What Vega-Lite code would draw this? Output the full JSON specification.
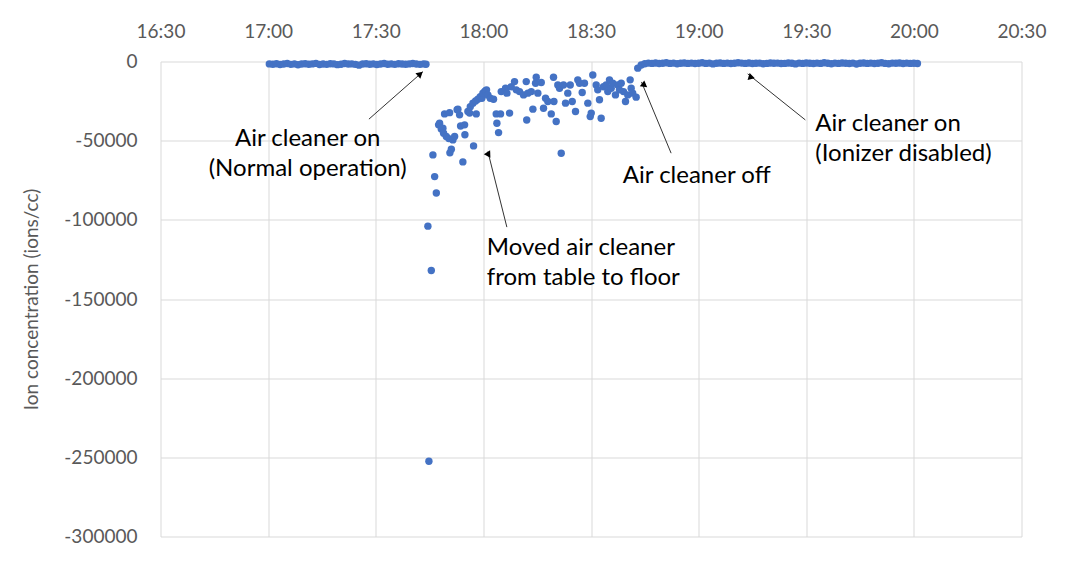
{
  "$schema": "https://vega.github.io/schema/vega-lite/v6.json",
  "width": 861,
  "height": 475,
  "autosize": {"type": "none"},
  "padding": {"left": 160.5, "top": 61.5, "right": 43, "bottom": 28},
  "background": "white",
  "config": {"view": {"stroke": null}, "font": "Lato"},
  "datasets": {
    "pts": [
      {"t":"17:00:20","v":-1500},{"t":"17:01:20","v":-1700},{"t":"17:02:20","v":-1400},{"t":"17:03:20","v":-1900},{"t":"17:04:20","v":-1600},
      {"t":"17:05:20","v":-1300},{"t":"17:06:20","v":-1800},{"t":"17:07:20","v":-1500},{"t":"17:08:20","v":-2100},{"t":"17:09:20","v":-1600},
      {"t":"17:10:20","v":-1400},{"t":"17:11:20","v":-1700},{"t":"17:12:20","v":-1500},{"t":"17:13:20","v":-1200},{"t":"17:14:20","v":-1900},
      {"t":"17:15:20","v":-1600},{"t":"17:16:20","v":-1800},{"t":"17:17:20","v":-1400},{"t":"17:18:20","v":-1500},{"t":"17:19:20","v":-2000},
      {"t":"17:20:20","v":-1700},{"t":"17:21:20","v":-1300},{"t":"17:22:20","v":-1600},{"t":"17:23:20","v":-1500},{"t":"17:24:20","v":-1800},
      {"t":"17:25:20","v":-2300},{"t":"17:26:20","v":-1600},{"t":"17:27:20","v":-1400},{"t":"17:28:20","v":-1700},{"t":"17:29:20","v":-1500},
      {"t":"17:30:20","v":-1900},{"t":"17:31:20","v":-1600},{"t":"17:32:20","v":-1300},{"t":"17:33:20","v":-1700},{"t":"17:34:20","v":-1500},
      {"t":"17:35:20","v":-1800},{"t":"17:36:20","v":-1400},{"t":"17:37:20","v":-1600},{"t":"17:38:20","v":-1700},{"t":"17:39:20","v":-1500},
      {"t":"17:40:20","v":-1300},{"t":"17:41:20","v":-1600},{"t":"17:42:20","v":-1800},{"t":"17:43:20","v":-1500},{"t":"17:44:00","v":-1700},
      {"t":"17:44:32","v":-104000},{"t":"17:44:49","v":-252500},{"t":"17:45:29","v":-132000},{"t":"17:45:56","v":-59000},{"t":"17:46:25","v":-72700},
      {"t":"17:46:53","v":-83100},{"t":"17:47:31","v":-40000},{"t":"17:47:48","v":-39000},{"t":"17:48:16","v":-42700},{"t":"17:48:43","v":-42100},
      {"t":"17:48:55","v":-45300},{"t":"17:49:11","v":-33100},{"t":"17:49:40","v":-47400},{"t":"17:50:23","v":-48700},{"t":"17:50:35","v":-32300},
      {"t":"17:50:40","v":-57700},{"t":"17:51:04","v":-55400},{"t":"17:51:30","v":-49500},{"t":"17:51:59","v":-47400},{"t":"17:52:41","v":-30500},
      {"t":"17:52:54","v":-30100},{"t":"17:53:22","v":-33700},{"t":"17:53:39","v":-40700},{"t":"17:54:17","v":-63400},{"t":"17:54:46","v":-40000},
      {"t":"17:54:51","v":-46300},{"t":"17:55:41","v":-31600},{"t":"17:56:10","v":-32600},{"t":"17:56:21","v":-28500},{"t":"17:57:05","v":-26300},
      {"t":"17:57:16","v":-53300},{"t":"17:57:50","v":-24900},{"t":"17:58:01","v":-33100},{"t":"17:58:28","v":-23800},{"t":"17:59:08","v":-22200},
      {"t":"17:59:35","v":-23200},{"t":"17:59:52","v":-20000},{"t":"18:00:20","v":-19000},{"t":"18:00:37","v":-18400},{"t":"18:00:53","v":-17900},
      {"t":"18:01:15","v":-21100},{"t":"18:01:55","v":-23200},{"t":"18:02:50","v":-23800},{"t":"18:03:35","v":-33100},{"t":"18:03:46","v":-39000},
      {"t":"18:04:14","v":-44900},{"t":"18:04:47","v":-33100},{"t":"18:04:59","v":-19000},{"t":"18:06:11","v":-16900},{"t":"18:06:33","v":-20000},
      {"t":"18:07:18","v":-32600},{"t":"18:07:46","v":-15900},{"t":"18:08:41","v":-12700},{"t":"18:09:10","v":-17900},{"t":"18:10:05","v":-19000},
      {"t":"18:11:12","v":-21100},{"t":"18:11:57","v":-12700},{"t":"18:12:05","v":-36900},{"t":"18:12:24","v":-20000},{"t":"18:13:21","v":-19000},
      {"t":"18:13:48","v":-30100},{"t":"18:14:33","v":-13700},{"t":"18:14:44","v":-9900},{"t":"18:15:11","v":-20000},{"t":"18:16:08","v":-13300},
      {"t":"18:16:46","v":-29500},{"t":"18:17:20","v":-23200},{"t":"18:17:58","v":-25300},{"t":"18:18:55","v":-33100},{"t":"18:19:33","v":-9900},
      {"t":"18:19:40","v":-25300},{"t":"18:20:18","v":-37900},{"t":"18:20:45","v":-14800},{"t":"18:21:14","v":-16900},{"t":"18:21:42","v":-57900},
      {"t":"18:22:20","v":-14800},{"t":"18:22:54","v":-26300},{"t":"18:23:32","v":-20000},{"t":"18:24:13","v":-14800},{"t":"18:24:46","v":-25300},
      {"t":"18:25:41","v":-31600},{"t":"18:26:19","v":-11600},{"t":"18:26:48","v":-13700},{"t":"18:27:33","v":-19600},{"t":"18:28:11","v":-13700},
      {"t":"18:29:07","v":-26300},{"t":"18:29:47","v":-34800},{"t":"18:30:04","v":-32600},{"t":"18:30:30","v":-8500},{"t":"18:31:27","v":-14800},
      {"t":"18:31:53","v":-17900},{"t":"18:32:22","v":-24200},{"t":"18:32:50","v":-35800},{"t":"18:33:29","v":-15900},{"t":"18:34:14","v":-14800},
      {"t":"18:34:41","v":-19000},{"t":"18:35:09","v":-11600},{"t":"18:35:38","v":-16900},{"t":"18:36:04","v":-13700},{"t":"18:36:49","v":-21100},
      {"t":"18:37:28","v":-14800},{"t":"18:37:56","v":-17900},{"t":"18:38:25","v":-13700},{"t":"18:39:03","v":-19000},{"t":"18:39:37","v":-25300},
      {"t":"18:40:15","v":-21100},{"t":"18:40:55","v":-11600},{"t":"18:41:12","v":-16900},{"t":"18:41:38","v":-20000},{"t":"18:42:35","v":-22500},
      {"t":"18:43:02","v":-4200},{"t":"18:44:00","v":-2200},
      {"t":"18:45:00","v":-1400},{"t":"18:46:00","v":-1000},{"t":"18:47:00","v":-1200},{"t":"18:48:00","v":-900},{"t":"18:49:00","v":-1300},
      {"t":"18:50:00","v":-1100},{"t":"18:51:00","v":-800},{"t":"18:52:00","v":-1200},{"t":"18:53:00","v":-1000},{"t":"18:54:00","v":-1400},
      {"t":"18:55:00","v":-1100},{"t":"18:56:00","v":-900},{"t":"18:57:00","v":-1200},{"t":"18:58:00","v":-1000},{"t":"18:59:00","v":-1300},
      {"t":"19:00:00","v":-1100},{"t":"19:01:00","v":-800},{"t":"19:02:00","v":-1200},{"t":"19:03:00","v":-1000},{"t":"19:04:00","v":-1500},
      {"t":"19:05:00","v":-1100},{"t":"19:06:00","v":-900},{"t":"19:07:00","v":-1200},{"t":"19:08:00","v":-1000},{"t":"19:09:00","v":-1300},
      {"t":"19:10:00","v":-1100},{"t":"19:11:00","v":-800},{"t":"19:12:00","v":-1000},{"t":"19:13:00","v":-1200},{"t":"19:14:00","v":-900},
      {"t":"19:15:00","v":-1300},{"t":"19:16:00","v":-1100},{"t":"19:17:00","v":-1000},{"t":"19:18:00","v":-1400},{"t":"19:19:00","v":-1200},
      {"t":"19:20:00","v":-900},{"t":"19:21:00","v":-1100},{"t":"19:22:00","v":-1000},{"t":"19:23:00","v":-1300},{"t":"19:24:00","v":-1200},
      {"t":"19:25:00","v":-900},{"t":"19:26:00","v":-1100},{"t":"19:27:00","v":-1500},{"t":"19:28:00","v":-1000},{"t":"19:29:00","v":-1200},
      {"t":"19:30:00","v":-900},{"t":"19:31:00","v":-1100},{"t":"19:32:00","v":-1300},{"t":"19:33:00","v":-1000},{"t":"19:34:00","v":-1200},
      {"t":"19:35:00","v":-800},{"t":"19:36:00","v":-1100},{"t":"19:37:00","v":-1400},{"t":"19:38:00","v":-1000},{"t":"19:39:00","v":-1200},
      {"t":"19:40:00","v":-900},{"t":"19:41:00","v":-1100},{"t":"19:42:00","v":-1300},{"t":"19:43:00","v":-1000},{"t":"19:44:00","v":-1600},
      {"t":"19:45:00","v":-1100},{"t":"19:46:00","v":-900},{"t":"19:47:00","v":-1200},{"t":"19:48:00","v":-1000},{"t":"19:49:00","v":-1300},
      {"t":"19:50:00","v":-1100},{"t":"19:51:00","v":-800},{"t":"19:52:00","v":-1200},{"t":"19:53:00","v":-1400},{"t":"19:54:00","v":-1000},
      {"t":"19:55:00","v":-1100},{"t":"19:56:00","v":-900},{"t":"19:57:00","v":-1300},{"t":"19:58:00","v":-1000},{"t":"19:59:00","v":-1200},
      {"t":"20:00:00","v":-1100},{"t":"20:01:00","v":-1300}
    ],
    "arrowLines": [
      {"id":"a","t":"17:28:06","v":-36400,"te":"17:43:09","ve":-6400},
      {"id":"b","t":"18:06:33","v":-104600,"te":"18:01:15","ve":-56900},
      {"id":"c","t":"18:52:20","v":-57900,"te":"18:44:04","ve":-12900},
      {"id":"d","t":"19:29:45","v":-36900,"te":"19:13:41","ve":-7800}
    ],
    "arrowHeads": [
      {"id":"a","t":"17:42:25","v":-7800},
      {"id":"b","t":"18:01:29","v":-59000},
      {"id":"c","t":"18:44:26","v":-14900},
      {"id":"d","t":"19:14:26","v":-9200}
    ],
    "notesCenter": [
      {"t":"17:11:02","v":-53300,"txt":["Air cleaner on","(Normal operation)"]}
    ],
    "notesLeft": [
      {"t":"18:00:58","v":-122100,"txt":["Moved air cleaner","from table to floor"]},
      {"t":"18:38:52","v":-76800,"txt":["Air cleaner off"]},
      {"t":"19:32:32","v":-43600,"txt":["Air cleaner on","(Ionizer disabled)"]}
    ]
  },
  "layer": [
    {
      "data": {"name": "pts", "format": {"parse": {"t": "date:'%H:%M:%S'"}}},
      "mark": {"type": "point", "filled": true, "size": 55, "color": "#4472C4", "opacity": 1},
      "encoding": {
        "x": {
          "field": "t", "type": "temporal",
          "scale": {"domain": [{"year":1900,"month":1,"date":1,"hours":16,"minutes":30},{"year":1900,"month":1,"date":1,"hours":20,"minutes":30}], "nice": false},
          "axis": {
            "orient": "top", "title": null, "format": "%H:%M",
            "values": [
              {"year":1900,"month":1,"date":1,"hours":16,"minutes":30},
              {"year":1900,"month":1,"date":1,"hours":17,"minutes":0},
              {"year":1900,"month":1,"date":1,"hours":17,"minutes":30},
              {"year":1900,"month":1,"date":1,"hours":18,"minutes":0},
              {"year":1900,"month":1,"date":1,"hours":18,"minutes":30},
              {"year":1900,"month":1,"date":1,"hours":19,"minutes":0},
              {"year":1900,"month":1,"date":1,"hours":19,"minutes":30},
              {"year":1900,"month":1,"date":1,"hours":20,"minutes":0},
              {"year":1900,"month":1,"date":1,"hours":20,"minutes":30}
            ],
            "domain": false, "ticks": false, "tickSize": 0,
            "grid": true, "gridColor": "#d9d9d9", "gridWidth": 1,
            "labelFont": "Lato", "labelFontSize": 19, "labelColor": "#595959",
            "labelPadding": 20, "labelFlush": false, "labelOverlap": false
          }
        },
        "y": {
          "field": "v", "type": "quantitative",
          "scale": {"domain": [-300000, 0], "nice": false, "zero": false},
          "axis": {
            "values": [0, -50000, -100000, -150000, -200000, -250000, -300000],
            "labelExpr": "datum.value + ''",
            "domain": false, "ticks": false, "tickSize": 0,
            "grid": true, "gridColor": "#d9d9d9", "gridWidth": 1,
            "labelFont": "Lato", "labelFontSize": 19, "labelColor": "#595959",
            "labelPadding": 23.5, "labelOverlap": false,
            "title": "Ion concentration (ions/cc)",
            "titleFont": "Lato", "titleFontSize": 19, "titleFontWeight": "normal",
            "titleColor": "#595959", "titlePadding": 22
          }
        }
      }
    },
    {
      "data": {"name": "arrowLines", "format": {"parse": {"t": "date:'%H:%M:%S'", "te": "date:'%H:%M:%S'"}}},
      "mark": {"type": "rule", "color": "#333333", "strokeWidth": 1},
      "encoding": {
        "x": {"field": "t", "type": "temporal"},
        "y": {"field": "v", "type": "quantitative"},
        "x2": {"field": "te"},
        "y2": {"field": "ve"}
      }
    },
    {
      "data": {"name": "arrowHeads", "format": {"parse": {"t": "date:'%H:%M:%S'"}}},
      "mark": {"type": "point", "shape": "triangle-up", "filled": true, "color": "#000000", "opacity": 1, "size": 55},
      "encoding": {
        "x": {"field": "t", "type": "temporal"},
        "y": {"field": "v", "type": "quantitative"},
        "angle": {"field": "id", "type": "nominal", "scale": {"domain": ["a","b","c","d"], "range": [48.6, 345.9, 337.4, 308.6]}, "legend": null}
      }
    },
    {
      "data": {"name": "notesCenter", "format": {"parse": {"t": "date:'%H:%M:%S'"}}},
      "mark": {"type": "text", "align": "center", "baseline": "alphabetic", "font": "Lato", "fontSize": 24, "lineHeight": 30, "color": "#000000"},
      "encoding": {
        "x": {"field": "t", "type": "temporal"},
        "y": {"field": "v", "type": "quantitative"},
        "text": {"field": "txt"}
      }
    },
    {
      "data": {"name": "notesLeft", "format": {"parse": {"t": "date:'%H:%M:%S'"}}},
      "mark": {"type": "text", "align": "left", "baseline": "alphabetic", "font": "Lato", "fontSize": 24, "lineHeight": 30, "color": "#000000"},
      "encoding": {
        "x": {"field": "t", "type": "temporal"},
        "y": {"field": "v", "type": "quantitative"},
        "text": {"field": "txt"}
      }
    }
  ]
}
